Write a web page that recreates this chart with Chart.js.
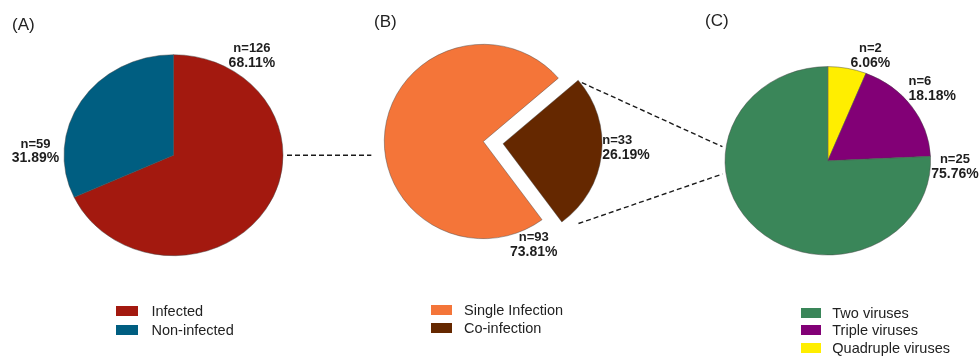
<!DOCTYPE html>
<html>
<head>
<meta charset="utf-8">
<script src="https://cdn.jsdelivr.net/npm/chart.js@4.4.1/dist/chart.umd.min.js"></script>
<style>
  html, body { margin: 0; padding: 0; background: #fff; }
  #wrap { position: relative; width: 980px; height: 356px; overflow: hidden;
          font-family: "Liberation Sans", Arial, sans-serif; color: #222; }
  #wrap canvas { position: absolute; left: 0; top: 0; }
  .title { position: absolute; font-size: 17px; line-height: 17px; }
  .lg-box { position: absolute; height: 10px; }
  .lg-text { position: absolute; font-size: 14.5px; line-height: 16px; white-space: nowrap; }
</style>
</head>
<body>
<div id="wrap">
  <canvas id="pieA" width="980" height="356"></canvas>
  <canvas id="pieB" width="980" height="356"></canvas>
  <canvas id="pieC" width="980" height="356"></canvas>
  <canvas id="links" width="980" height="356"></canvas>
  <div class="title" style="left:12px; top:16px">(A)</div>
  <div class="title" style="left:374px; top:13px">(B)</div>
  <div class="title" style="left:705px; top:12px">(C)</div>
</div>
<script>
// (A) infection status
const aLabels = ['Infected', 'Non-infected'];
const aValues = [126, 59];
const aColors = ['#A3190F', '#005E81'];

// (B) among infected
const bLabels = ['Single Infection', 'Co-infection'];
const bValues = [93, 33];
const bColors = ['#F47539', '#652800'];

// (C) among co-infected, legend order
const cLabels = ['Two viruses', 'Triple viruses', 'Quadruple viruses'];
const cValues = [25, 6, 2];
const cColors = ['#3A8659', '#820076', '#FFEE00'];

// stretch the pies a bit sideways like the original figure
const ellipse = {
  id: 'ellipse',
  beforeDatasetsDraw(chart, args, opts) {
    const arc = chart.getDatasetMeta(0).data[0];
    const ctx = chart.ctx;
    ctx.save();
    ctx.translate(arc.x, arc.y);
    ctx.scale(opts.sx, opts.sy);
    ctx.translate(-arc.x, -arc.y);
  },
  afterDatasetsDraw(chart) {
    chart.ctx.restore();
  }
};

// "n=.." and percentage next to each slice
const sliceLabels = {
  id: 'sliceLabels',
  afterDatasetsDraw(chart, args, opts) {
    const ctx = chart.ctx;
    const data = chart.data.datasets[0].data;
    const total = data.reduce((s, v) => s + v, 0);
    const e = chart.options.plugins.ellipse;
    chart.getDatasetMeta(0).data.forEach((arc, i) => {
      const t = opts.angles[i] * Math.PI / 180;
      const k = opts.dists[i];
      const x = arc.x + k * arc.outerRadius * e.sx * Math.sin(t);
      const y = arc.y - k * arc.outerRadius * e.sy * Math.cos(t);
      ctx.save();
      ctx.fillStyle = '#1e1e1e';
      ctx.textAlign = opts.aligns[i];
      ctx.textBaseline = 'middle';
      ctx.font = 'bold 13px "Liberation Sans", Arial, sans-serif';
      ctx.fillText('n=' + data[i], x, y - 7);
      ctx.font = 'bold 14px "Liberation Sans", Arial, sans-serif';
      ctx.fillText((data[i] / total * 100).toFixed(2) + '%', x, y + 7.5);
      ctx.restore();
    });
  }
};

function makePie(id, labels, values, colors, geo, labelPos) {
  const half = 130;
  return new Chart(document.getElementById(id), {
    type: 'pie',
    data: {
      labels: labels,
      datasets: [{
        data: values,
        backgroundColor: colors,
        borderColor: 'rgba(70,70,70,0.75)',
        borderWidth: 0.6,
        offset: geo.offset,
        radius: geo.r,
        rotation: geo.rotation
      }]
    },
    options: {
      responsive: false,
      animation: false,
      events: [],
      layout: {
        padding: {
          left: geo.cx - half, right: 980 - geo.cx - half,
          top: geo.cy - half, bottom: 356 - geo.cy - half
        }
      },
      plugins: {
        legend: { display: false },
        tooltip: { enabled: false },
        ellipse: { sx: geo.rx / geo.r, sy: 1 },
        sliceLabels: labelPos
      }
    },
    plugins: [ellipse, sliceLabels]
  });
}

const chartA = makePie('pieA', aLabels, aValues, aColors,
  { cx: 173.5, cy: 155.2, r: 100.5, rx: 109.5, rotation: 0, offset: [0, 0] },
  { angles: [35.9, 271.9], dists: [1.222, 1.261], aligns: ['center', 'center'] });

const chartB = makePie('pieB', bLabels, bValues, bColors,
  { cx: 483.3, cy: 141.5, r: 97.2, rx: 99, rotation: 143.6, offset: [0, 78] },
  { angles: [154.4, 93.1], dists: [1.179, 1.203], aligns: ['center', 'left'] });

// drawn quadruple -> triple -> two, clockwise from 12 o'clock
const chartC = makePie('pieC', cLabels.slice().reverse(), cValues.slice().reverse(), cColors.slice().reverse(),
  { cx: 827.8, cy: 160.8, r: 94.2, rx: 102.8, rotation: 0, offset: [0, 0, 0] },
  { angles: [20.3, 45.6, 92.7], dists: [1.195, 1.099, 1.238], aligns: ['center', 'left', 'center'] });

// legends
function makeLegend(labels, colors, lg) {
  const wrap = document.getElementById('wrap');
  labels.forEach((txt, i) => {
    const yc = lg.y + i * lg.step;
    const box = document.createElement('div');
    box.className = 'lg-box';
    box.style.left = lg.boxX + 'px';
    box.style.top = (yc - 5) + 'px';
    box.style.width = lg.w + 'px';
    box.style.background = colors[i];
    wrap.appendChild(box);
    const t = document.createElement('div');
    t.className = 'lg-text';
    t.style.left = lg.textX + 'px';
    t.style.top = (yc - 8) + 'px';
    t.textContent = txt;
    wrap.appendChild(t);
  });
}
makeLegend(aLabels, aColors, { boxX: 116, textX: 151.5, y: 311.2, step: 18.3, w: 22 });
makeLegend(bLabels, bColors, { boxX: 431, textX: 464, y: 309.7, step: 18.1, w: 21 });
makeLegend(cLabels, cColors, { boxX: 801, textX: 832.3, y: 313.3, step: 17.1, w: 20 });

// dashed connectors between the panels
function geom(chart) {
  const arc = chart.getDatasetMeta(0).data[0];
  const e = chart.options.plugins.ellipse;
  return { cx: arc.x, cy: arc.y, r: arc.outerRadius, sx: e.sx, sy: e.sy,
           rx: arc.outerRadius * e.sx, ry: arc.outerRadius * e.sy };
}
const gA = geom(chartA), gB = geom(chartB), gC = geom(chartC);
const co = chartB.getDatasetMeta(0).data[1];
const sh = co.options.offset / 4;
const mid = (co.startAngle + co.endAngle) / 2;
function corner(a) {
  return {
    x: gB.cx + gB.sx * (sh * Math.cos(mid) + gB.r * Math.cos(a)),
    y: gB.cy + gB.sy * (sh * Math.sin(mid) + gB.r * Math.sin(a))
  };
}
function onC(deg, k) {
  const t = deg * Math.PI / 180;
  return { x: gC.cx + k * gC.rx * Math.sin(t), y: gC.cy - k * gC.ry * Math.cos(t) };
}
const topC = corner(co.startAngle), botC = corner(co.endAngle);
const lines = [
  [{ x: gA.cx + gA.rx + 4, y: gA.cy }, { x: gB.cx - gB.rx - 13, y: gA.cy }],
  [{ x: topC.x + 3.7, y: topC.y + 2.3 }, onC(278.3, 1.036)],
  [{ x: botC.x + 16.7, y: botC.y + 1.6 }, onC(262.2, 1.035)]
];
const lctx = document.getElementById('links').getContext('2d');
lctx.strokeStyle = '#1a1a1a';
lctx.lineWidth = 1.4;
lctx.setLineDash([5, 3]);
lines.forEach(([p, q]) => {
  lctx.beginPath();
  lctx.moveTo(p.x, p.y);
  lctx.lineTo(q.x, q.y);
  lctx.stroke();
});
</script>
</body>
</html>
